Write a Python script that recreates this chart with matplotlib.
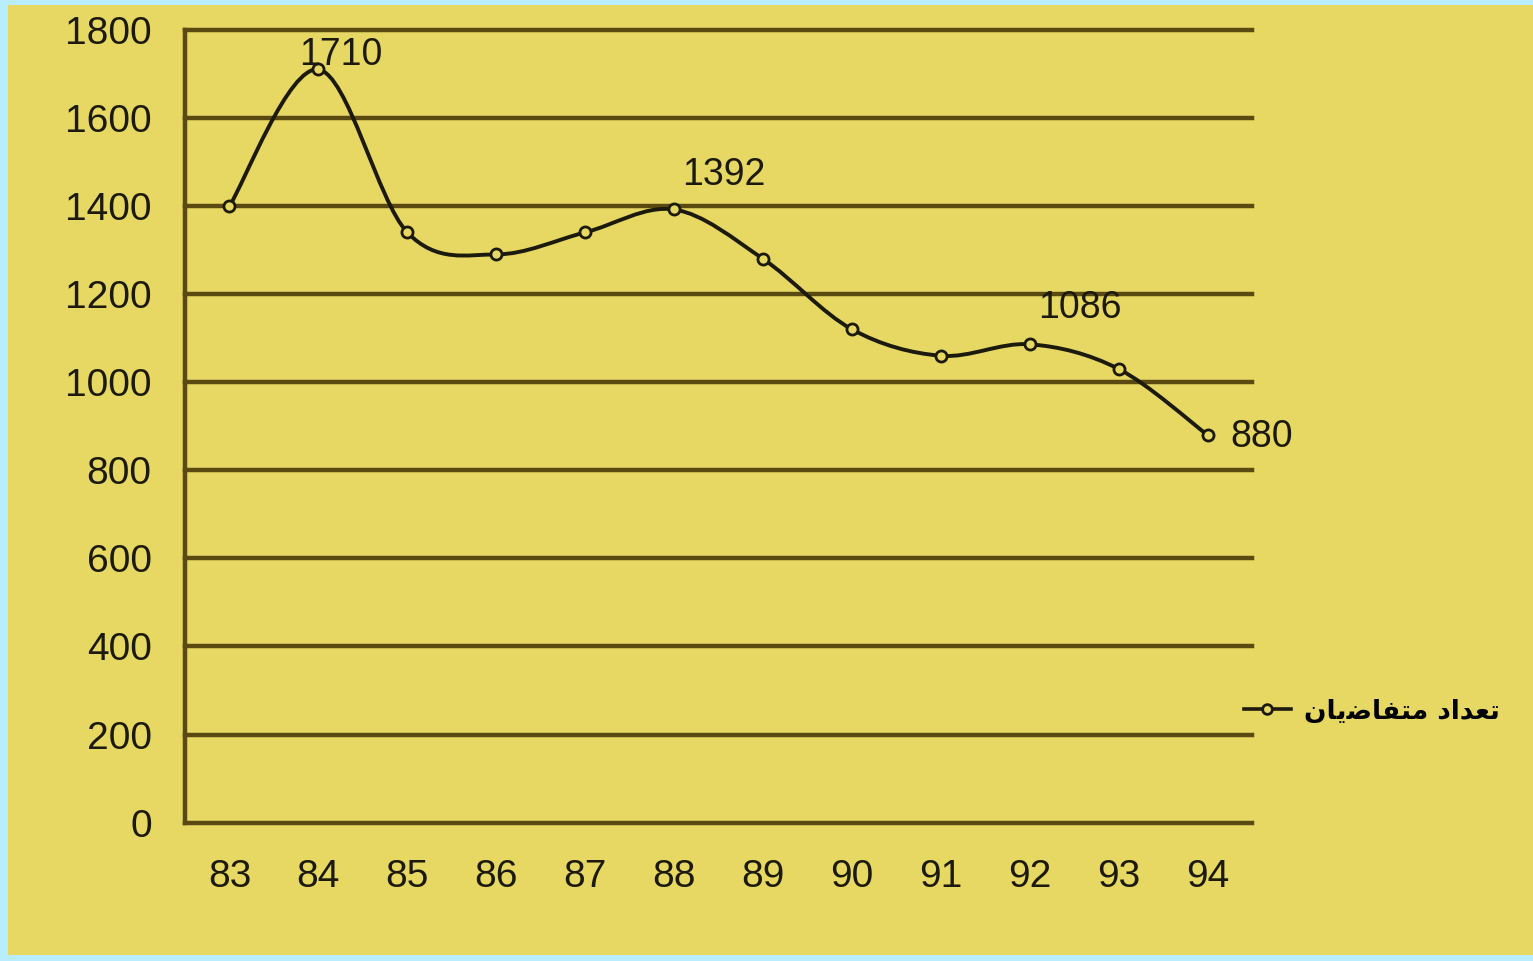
import numpy as np
import matplotlib.pyplot as plt
from matplotlib.path import Path
from matplotlib.patches import PathPatch, Rectangle
from matplotlib.lines import Line2D

# data
years = ['83', '84', '85', '86', '87', '88', '89', '90', '91', '92', '93', '94']
applicants = [1400, 1710, 1340, 1290, 1340, 1392, 1280, 1120, 1060, 1086, 1030, 880]
labelled = {1: '1710', 5: '1392', 9: '1086', 11: '880'}
y_ticks = [0, 200, 400, 600, 800, 1000, 1200, 1400, 1600, 1800]
# "تعداد متقاضیان" written in shaped (presentation) forms, visual order
legend_text = '\ufee5\ufe8e\ufbfe\ufebf\ufe8e\ufed4\ufe98\ufee3 \ufea9\ufe8d\ufeaa\ufecc\ufe97'

bg = '#e6d862'
grid_col = '#5a4a12'
ink = '#1c1a0c'

# smooth line like excel: catmull-rom bezier through the points
def smoothPath(x, y):
    pts = np.column_stack([x, y]).astype(float)
    verts = [pts[0]]
    codes = [Path.MOVETO]
    for i in range(len(pts) - 1):
        p0 = pts[i - 1] if i > 0 else pts[i]
        p1 = pts[i]
        p2 = pts[i + 1]
        p3 = pts[i + 2] if i + 2 < len(pts) else pts[i + 1]
        verts += [p1 + (p2 - p0) / 6.0, p2 - (p3 - p1) / 6.0, p2]
        codes += [Path.CURVE4] * 3
    return Path(verts, codes)

plt.rcParams['font.family'] = ['Liberation Sans', 'DejaVu Sans']

fig = plt.figure(figsize=(15.33, 9.61), dpi=100, facecolor='#b8ecff')
fig.patches.append(Rectangle((8 / 1533, 6 / 961), 1 - 8 / 1533, 1 - 11 / 961,
                             transform=fig.transFigure, facecolor=bg, edgecolor='none', zorder=-5))
ax = fig.add_axes([0.1207, 0.1440, 0.6960, 0.8250])
ax.set_facecolor(bg)

x = np.arange(len(years))
for v in y_ticks:
    ax.axhline(v, color=grid_col, lw=3.2, zorder=1, clip_on=False)

ax.add_patch(PathPatch(smoothPath(x, applicants), facecolor='none', edgecolor=ink, lw=2.8, zorder=3))
ax.plot(x, applicants, linestyle='none', marker='o', ms=8, mfc=bg, mec=ink, mew=2, zorder=4)

# value labels next to the highlighted points
offsets = {1: (22, 14), 5: (50, 34), 9: (50, 36), 11: (23, -2)}
for i, txt in labelled.items():
    ha = 'left' if i == 11 else 'center'
    ax.annotate(txt, (x[i], applicants[i]), xytext=offsets[i], textcoords='offset pixels',
                ha=ha, va='center', fontsize=27, color=ink, zorder=5)

ax.set_xlim(-0.5, 11.5)
ax.set_ylim(0, 1800)
ax.set_xticks(x)
ax.set_xticklabels(years)
ax.set_yticks(y_ticks)
ax.tick_params(length=0, labelsize=28, labelcolor=ink)
ax.tick_params(axis='y', pad=24)
ax.tick_params(axis='x', pad=26)
for s in ['top', 'right', 'bottom']:
    ax.spines[s].set_visible(False)
ax.spines['left'].set_color(grid_col)
ax.spines['left'].set_linewidth(3.2)

handle = Line2D([], [], color=ink, lw=2.6, marker='o', ms=7, mfc=bg, mec=ink, mew=2)
ax.legend([handle], [legend_text], loc='center left', bbox_to_anchor=(0.97, 0.14),
          frameon=False, handlelength=1.8, handletextpad=0.5,
          prop={'family': ['DejaVu Sans'], 'size': 19, 'weight': 'bold'})

plt.savefig('out.png', dpi=100, facecolor=fig.get_facecolor())
